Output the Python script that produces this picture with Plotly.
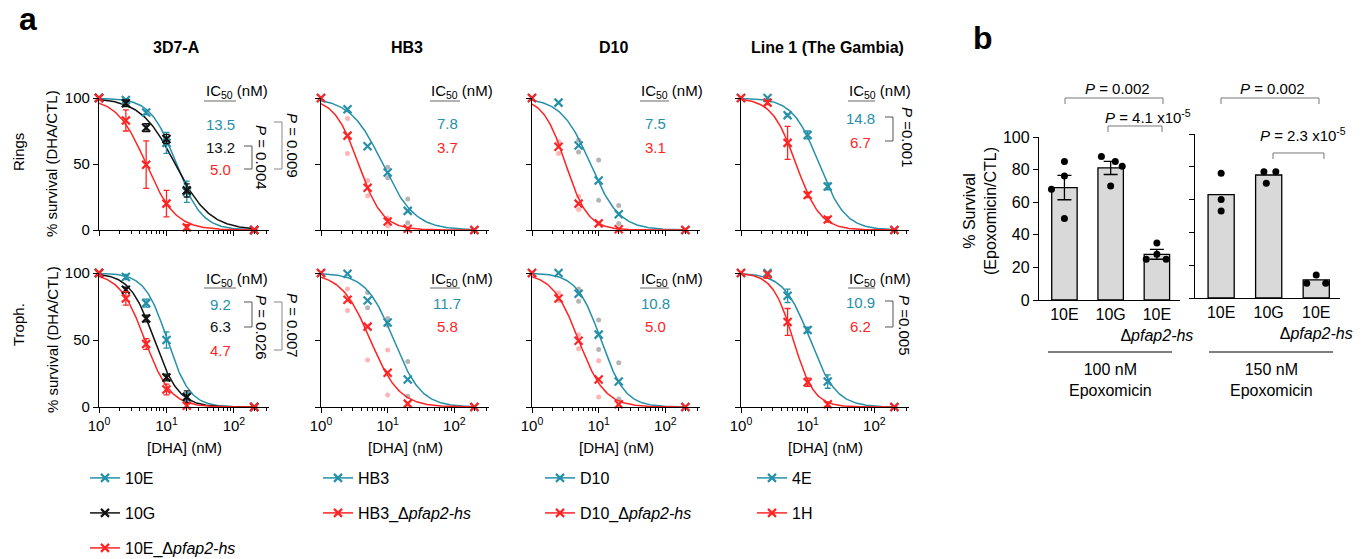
import numpy as np
import plotly.graph_objects as go

W, H = 1366, 559
FONT = "Liberation Sans, Arial, Helvetica, sans-serif"
TEAL = "#2590a8"
RED = "#ff2424"
BLACK = "#111111"
GREY_DOT = "rgba(120,120,120,0.55)"
PINK_DOT = "rgba(255,90,90,0.45)"

# ---------------- DATA ----------------
conc = [1, 2.5, 5, 10, 20, 200]
panel_titles = ["3D7-A", "HB3", "D10", "Line 1 (The Gambia)"]
row_labels = ["Rings", "Troph."]

# Rings: means and SEM
r_3d7_10E = [100, 98.5, 89, 66, 29, 0]
r_3d7_10E_err = [0, 1.5, 1.5, 8, 8, 0]
r_3d7_10G = [100, 96, 77.5, 69, 30, 0]
r_3d7_10G_err = [0, 2.5, 3, 3.5, 5, 0]
r_3d7_10Ed = [100, 83, 49.5, 20, 2, 0]
r_3d7_10Ed_err = [0, 8, 18, 10, 2, 0]
r_hb3 = [100, 91.5, 63.5, 43.5, 14.5, 0]
r_hb3d = [100, 71.5, 32, 6.5, 1, 0]
r_d10 = [100, 96.5, 64, 37.5, 12, 0]
r_d10d = [100, 63, 20, 5, 0.5, 0]
r_4E = [100, 100, 87, 72, 33, 0]
r_4E_err = [0, 1, 1, 3, 2.5, 0]
r_1H = [100, 96.5, 66, 26.5, 8, 0]
r_1H_err = [0, 1.5, 12.5, 2, 2, 0]

# Rings replicate points (conc, value)
r_hb3_rep_x = [10, 10, 20, 20]
r_hb3_rep_y = [47.5, 39.5, 23.5, 5.5]
r_hb3d_rep_x = [2.5, 2.5, 5, 5, 10, 10, 20]
r_hb3d_rep_y = [84.5, 58, 37.5, 26, 9, 3, 0.5]
r_d10_rep_x = [5, 5, 10, 10, 20, 20]
r_d10_rep_y = [68, 59, 53, 22.5, 18.5, 5]
r_d10d_rep_x = [2.5, 2.5, 5, 5, 10, 20]
r_d10d_rep_y = [67, 58, 25.5, 15.5, 5, 0.5]

# Trophozoites: means and SEM
t_3d7_10E = [100, 97, 77.5, 50, 7.5, 0]
t_3d7_10E_err = [0, 2, 3, 6, 3, 0]
t_3d7_10G = [100, 87.5, 66, 22, 7.5, 0]
t_3d7_10G_err = [0, 2, 2.5, 2.5, 4.5, 0]
t_3d7_10Ed = [100, 81, 47, 13, 1, 0]
t_3d7_10Ed_err = [0, 5, 4, 4, 1.5, 0]
t_hb3 = [100, 99.5, 79.5, 63, 20.5, 0]
t_hb3d = [100, 80, 60, 25.5, 2.5, 0]
t_d10 = [100, 100, 84.5, 54, 19, 0]
t_d10d = [100, 81, 49.5, 20.5, 2, 0]
t_4E = [100, 100, 83, 57.5, 19, 0]
t_4E_err = [0, 2.5, 5, 2, 5, 0]
t_1H = [100, 99, 63.5, 18.5, 2, 0]
t_1H_err = [0, 3, 10, 3, 1.5, 0]

t_hb3_rep_x = [5, 5, 10, 10, 20, 20]
t_hb3_rep_y = [85.5, 74, 66, 61, 34, 8]
t_hb3d_rep_x = [2.5, 2.5, 5, 10, 10, 20]
t_hb3d_rep_y = [88, 72, 35, 42.5, 9, 1]
t_d10_rep_x = [5, 5, 10, 10, 20, 20]
t_d10_rep_y = [88, 79, 65, 43, 33, 6]
t_d10d_rep_x = [2.5, 2.5, 5, 5, 10, 10, 20]
t_d10d_rep_y = [85, 79.5, 54, 43.5, 34.5, 7.5, 1]

# Fitted dose-response parameters: (EC50 nM, Hill slope)
fit_rings = [[(14.0, 2.3), (13.5, 1.7), (5.0, 2.0)],
             [(8.4, 1.8), (3.65, 2.4)],
             [(7.5, 2.0), (3.2, 2.6)],
             [(14.8, 2.2), (6.7, 2.4)]]
fit_troph = [[(10.3, 2.6), (6.6, 2.4), (4.8, 2.3)],
             [(12.3, 2.1), (5.5, 2.0)],
             [(10.8, 2.4), (5.0, 2.2)],
             [(10.9, 2.2), (6.1, 2.8)]]

ic50_rings = [["13.5", "13.2", "5.0"], ["7.8", "3.7"], ["7.5", "3.1"], ["14.8", "6.7"]]
ic50_troph = [["9.2", "6.3", "4.7"], ["11.7", "5.8"], ["10.8", "5.0"], ["10.9", "6.2"]]

legend_names = [["10E", "10G", "10E_Δ<i>pfap2-hs</i>"],
                ["HB3", "HB3_Δ<i>pfap2-hs</i>"],
                ["D10", "D10_Δ<i>pfap2-hs</i>"],
                ["4E", "1H"]]

# Panel b
b_categories = ["10E", "10G", "10E<br>Δ<i>pfap2-hs</i>"]
b100_means = [69, 81, 28]
b100_sem = [7.5, 4, 3]
b100_pts = [[85, 76, 68, 50], [88, 85, 82, 70], [35, 28, 25, 25]]
b150_means = [63, 75, 11]
b150_pts = [[76, 60, 53], [77, 77, 70], [14, 9, 9]]
b_pvals_100 = ["0.002", "4.1 x10<sup>-5</sup>"]
b_pvals_150 = ["0.002", "2.3 x10<sup>-5</sup>"]

# ---------------- LAYOUT HELPERS ----------------
def PX(x):
    return x / W

def PY(y):
    return 1 - y / H

fig = go.Figure()
annotations = []
shapes = []

def ann(text, x, y, size=14, color="black", xanchor="center", yanchor="middle", angle=0):
    annotations.append(dict(text=text, x=PX(x), y=PY(y), xref="paper", yref="paper",
                            showarrow=False, xanchor=xanchor, yanchor=yanchor,
                            textangle=angle, font=dict(size=size, color=color, family=FONT)))

def path(points, color="#555", width=1.0):
    d = "M " + " L ".join(f"{PX(a):.5f},{PY(b):.5f}" for a, b in points)
    shapes.append(dict(type="path", path=d, xref="paper", yref="paper",
                       line=dict(color=color, width=width)))

def ax_names(k):
    return ("x" if k == 1 else f"x{k}"), ("y" if k == 1 else f"y{k}"), \
           ("xaxis" if k == 1 else f"xaxis{k}"), ("yaxis" if k == 1 else f"yaxis{k}")

col_x = [(99, 269), (321, 489), (532, 700), (741, 909)]
row_y = [(98, 230), (273, 407)]

minor_vals = [2, 3, 4, 5, 6, 7, 8, 9, 20, 30, 40, 50, 60, 70, 80, 90, 200, 300]
xs_fit = np.logspace(0, np.log10(200), 160)

def nz(errs):
    return [e if e > 0 else None for e in errs]

rings_series = [
    [(r_3d7_10E, r_3d7_10E_err, TEAL), (r_3d7_10G, r_3d7_10G_err, BLACK), (r_3d7_10Ed, r_3d7_10Ed_err, RED)],
    [(r_hb3, None, TEAL), (r_hb3d, None, RED)],
    [(r_d10, None, TEAL), (r_d10d, None, RED)],
    [(r_4E, r_4E_err, TEAL), (r_1H, r_1H_err, RED)],
]
troph_series = [
    [(t_3d7_10E, t_3d7_10E_err, TEAL), (t_3d7_10G, t_3d7_10G_err, BLACK), (t_3d7_10Ed, t_3d7_10Ed_err, RED)],
    [(t_hb3, None, TEAL), (t_hb3d, None, RED)],
    [(t_d10, None, TEAL), (t_d10d, None, RED)],
    [(t_4E, t_4E_err, TEAL), (t_1H, t_1H_err, RED)],
]
rings_reps = [[], [(r_hb3_rep_x, r_hb3_rep_y, GREY_DOT), (r_hb3d_rep_x, r_hb3d_rep_y, PINK_DOT)],
              [(r_d10_rep_x, r_d10_rep_y, GREY_DOT), (r_d10d_rep_x, r_d10d_rep_y, PINK_DOT)], []]
troph_reps = [[], [(t_hb3_rep_x, t_hb3_rep_y, GREY_DOT), (t_hb3d_rep_x, t_hb3d_rep_y, PINK_DOT)],
              [(t_d10_rep_x, t_d10_rep_y, GREY_DOT), (t_d10d_rep_x, t_d10d_rep_y, PINK_DOT)], []]

layout_axes = {}
for r in range(2):
    series_all = rings_series if r == 0 else troph_series
    reps_all = rings_reps if r == 0 else troph_reps
    fits_all = fit_rings if r == 0 else fit_troph
    for c in range(4):
        k = r * 4 + c + 1
        xa, ya, xk, yk = ax_names(k)
        x0, x1 = col_x[c]
        y0, y1 = row_y[r]
        layout_axes[xk] = dict(
            type="log", range=[0, 2.52], domain=[PX(x0), PX(x1)], anchor=ya,
            showline=True, linecolor="black", linewidth=1.3, showgrid=False, zeroline=False,
            ticks="outside", ticklen=5, tickwidth=1.3, tickcolor="black",
            tickmode="array", tickvals=[1, 10, 100],
            ticktext=["10<sup>0</sup>", "10<sup>1</sup>", "10<sup>2</sup>"],
            showticklabels=(r == 1), tickangle=0,
            tickfont=dict(size=15, family=FONT, color="black"),
            minor=dict(tickmode="array", tickvals=minor_vals, ticks="outside", ticklen=3,
                       tickwidth=1, tickcolor="black", showgrid=False),
        )
        layout_axes[yk] = dict(
            range=[0, 100], domain=[PY(y1), PY(y0)], anchor=xa,
            showline=True, linecolor="black", linewidth=1.3, showgrid=False, zeroline=False,
            ticks="outside", ticklen=5, tickwidth=1.3, tickcolor="black",
            tickmode="array", tickvals=[0, 50, 100], showticklabels=(c == 0),
            tickfont=dict(size=15, family=FONT, color="black"),
        )
        for rx, ry, rc in reps_all[c]:
            fig.add_trace(go.Scatter(x=rx, y=ry, mode="markers", xaxis=xa, yaxis=ya,
                                     marker=dict(size=5, color=rc), showlegend=False,
                                     cliponaxis=False, hoverinfo="skip"))
        for (vals, errs, colr), (ec50, hill) in zip(series_all[c], fits_all[c]):
            ys_fit = 100.0 / (1.0 + (xs_fit / ec50) ** hill)
            fig.add_trace(go.Scatter(x=xs_fit, y=ys_fit, mode="lines", xaxis=xa, yaxis=ya,
                                     line=dict(color=colr, width=1.5), showlegend=False,
                                     cliponaxis=False, hoverinfo="skip"))
        for (vals, errs, colr) in series_all[c]:
            ey = dict(type="data", array=nz(errs), color=colr, thickness=1.3, width=3,
                      visible=True) if errs is not None else None
            fig.add_trace(go.Scatter(x=conc, y=vals, mode="markers", xaxis=xa, yaxis=ya,
                                     marker=dict(symbol="x-thin", size=8,
                                                 line=dict(color=colr, width=2.2)),
                                     error_y=ey, showlegend=False, cliponaxis=False))
        if r == 1:
            ann("[DHA] (nM)", (x0 + x1) / 2, 447, size=15)

# Titles
for c, t in enumerate(panel_titles):
    cx = [176, 407, 613, 827][c]
    ann(f"<b>{t}</b>", cx, 47, size=16)

ann("<b>a</b>", 28, 19, size=32)
ann("<b>b</b>", 983, 38, size=32)
ann(row_labels[0], 18, 152, size=15, angle=-90)
ann(row_labels[1], 18, 325, size=15, angle=-90)
ann("% survival (DHA/CTL)", 52, 164, size=15, angle=-90)
ann("% survival (DHA/CTL)", 52, 340, size=15, angle=-90)

# IC50 blocks
ic_hdr_x = [237, 462, 672, 880]
ic_ul = [(204, 236), (430, 460), (640, 669), (848, 875)]
ic_val_x = [220, 447, 655, 860]
val_colors3 = [TEAL, BLACK, RED]
val_colors2 = [TEAL, RED]
rows_val_y = {
    (0, 0): [124, 147, 169], (1, 0): [304, 327, 350],
    (0, 1): [123, 147], (1, 1): [303, 327],
    (0, 2): [123, 147], (1, 2): [303, 327],
    (0, 3): [119, 142], (1, 3): [302, 327],
}
for r in range(2):
    hdr_y = 92 if r == 0 else 279
    ul_y = 101 if r == 0 else 288
    vals_all = ic50_rings if r == 0 else ic50_troph
    for c in range(4):
        ann("IC<sub>50</sub> (nM)", ic_hdr_x[c], hdr_y, size=15)
        path([(ic_ul[c][0], ul_y), (ic_ul[c][1], ul_y)], color="#666", width=1)
        cols = val_colors3 if len(vals_all[c]) == 3 else val_colors2
        for v, colr, yy in zip(vals_all[c], cols, rows_val_y[(r, c)]):
            ann(v, ic_val_x[c], yy, size=15, color=colr)

# P-value brackets, panel a
path([(244, 146), (252, 146), (252, 169), (244, 169)])
ann("<i>P</i> = 0.004", 261, 157, size=15, angle=90)
path([(274, 122), (282, 122), (282, 169), (274, 169)], color="#888")
ann("<i>P</i> = 0.009", 293, 145, size=15, angle=90)
path([(244, 302), (252, 302), (252, 327), (244, 327)])
ann("<i>P</i> = 0.026", 261, 327, size=15, angle=90)
path([(274, 302), (282, 302), (282, 350), (274, 350)], color="#888")
ann("<i>P</i> = 0.007", 293, 325, size=15, angle=90)
path([(885, 117), (893, 117), (893, 141), (885, 141)])
ann("<i>P</i> =0.001", 907, 137, size=15, angle=90)
path([(885, 301), (893, 301), (893, 327), (885, 327)])
ann("<i>P</i> =0.005", 905, 325, size=15, angle=90)

# ---------------- Panel b ----------------
b_dom = [((1039, 1180), (137, 300)), ((1195, 1340), (134, 298))]
b_offsets_100 = [[0, 0, -0.28, 0], [-0.2, 0.1, 0.25, 0], [0, 0, -0.23, 0.2]]
b_offsets_150 = [[0, 0, 0], [-0.1, 0.15, -0.05], [0, -0.2, 0.2]]
for i, (means, sem, pts, offs) in enumerate([(b100_means, b100_sem, b100_pts, b_offsets_100),
                                             (b150_means, None, b150_pts, b_offsets_150)]):
    k = 9 + i
    xa, ya, xk, yk = ax_names(k)
    (x0, x1), (y0, y1) = b_dom[i]
    layout_axes[xk] = dict(
        range=[-0.55, 2.5], domain=[PX(x0), PX(x1)], anchor=ya,
        showline=True, linecolor="black", linewidth=1.3, showgrid=False, zeroline=False,
        ticks="", tickmode="array", tickvals=[0, 1, 2], ticktext=b_categories, tickangle=0,
        tickfont=dict(size=16, family=FONT, color="black"),
    )
    layout_axes[yk] = dict(
        range=[0, 100], domain=[PY(y1), PY(y0)], anchor=xa,
        showline=True, linecolor="black", linewidth=1.3, showgrid=False, zeroline=False,
        ticks="outside", ticklen=5, tickwidth=1.3, tickcolor="black",
        tickmode="array", tickvals=[0, 20, 40, 60, 80, 100], showticklabels=(i == 0),
        tickfont=dict(size=16, family=FONT, color="black"),
    )
    ey = dict(type="data", array=sem, color="black", thickness=1.3, width=7) if sem else None
    fig.add_trace(go.Bar(x=[0, 1, 2], y=means, width=0.55, xaxis=xa, yaxis=ya,
                         marker=dict(color="#d9d9d9", line=dict(color="black", width=1.3)),
                         error_y=ey, showlegend=False))
    dx, dy = [], []
    for j, (p, o) in enumerate(zip(pts, offs)):
        dx += [j + oo for oo in o]
        dy += p
    fig.add_trace(go.Scatter(x=dx, y=dy, mode="markers", xaxis=xa, yaxis=ya,
                             marker=dict(size=7, color="black"), showlegend=False,
                             cliponaxis=False))

ann("% Survival<br>(Epoxomicin/CTL)", 980, 211, size=16, angle=-90)
# brackets
path([(1065, 104), (1065, 98), (1163, 98), (1163, 104)], color="#777")
ann(f"<i>P</i> = {b_pvals_100[0]}", 1117, 88, size=15)
path([(1108, 132), (1108, 126), (1162, 126), (1162, 132)], color="#777")
ann(f"<i>P</i> = {b_pvals_100[1]}", 1148, 116, size=15)
path([(1221, 104), (1221, 98), (1319, 98), (1319, 104)], color="#777")
ann(f"<i>P</i> = {b_pvals_150[0]}", 1272, 88, size=15)
path([(1273, 159), (1273, 153), (1324, 153), (1324, 159)], color="#777")
ann(f"<i>P</i> = {b_pvals_150[1]}", 1303, 134, size=15)
path([(1048, 352), (1172, 352)], color="black", width=1.2)
path([(1209, 352), (1333, 352)], color="black", width=1.2)
ann("100 nM<br>Epoxomicin", 1110, 380, size=16)
ann("150 nM<br>Epoxomicin", 1271, 380, size=16)

# ---------------- Legends ----------------
leg_text_x = [127, 360, 582, 794]
leg_y = [478, 513, 548]
leg_colors = [[TEAL, BLACK, RED], [TEAL, RED], [TEAL, RED], [TEAL, RED]]
legend_layouts = {}
li = 0
for c in range(4):
    for j, name in enumerate(legend_names[c]):
        li += 1
        lk = "legend" if li == 1 else f"legend{li}"
        colr = leg_colors[c][j]
        fig.add_trace(go.Scatter(x=[None], y=[None], mode="lines+markers", name=name,
                                 legend=lk, showlegend=True,
                                 line=dict(color=colr, width=1.5),
                                 marker=dict(symbol="x-thin", size=8, line=dict(color=colr, width=2.2))))
        legend_layouts[lk] = dict(x=PX(leg_text_x[c] - 42), y=PY(leg_y[j]), xanchor="left",
                                  yanchor="middle", bgcolor="rgba(0,0,0,0)",
                                  font=dict(size=16, family=FONT, color="black"))

fig.update_layout(
    width=W, height=H, margin=dict(l=0, r=0, t=0, b=0, pad=0, autoexpand=False),
    paper_bgcolor="white", plot_bgcolor="white",
    font=dict(family=FONT, size=14, color="black"),
    annotations=annotations, shapes=shapes, bargap=0.3,
    **layout_axes, **legend_layouts,
)
fig.write_html("out.html", config={"displayModeBar": False},
               post_script="document.body.style.margin='0';document.body.style.overflow='hidden';")
